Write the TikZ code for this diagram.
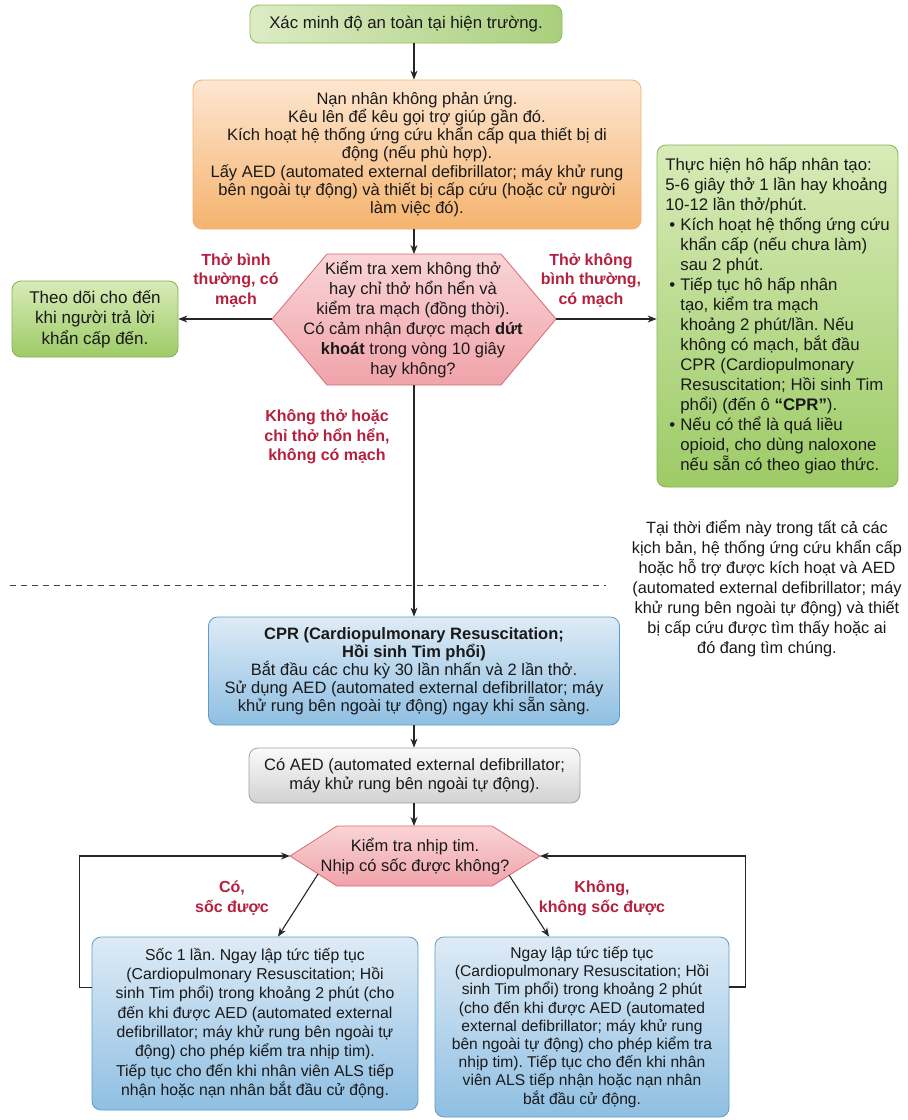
\documentclass[tikz,border=0pt]{standalone}
\usepackage{fontspec}
\setmainfont{Liberation Sans}
\usetikzlibrary{arrows.meta}
\frenchspacing
\definecolor{topL}{HTML}{DCEBC4}\definecolor{topR}{HTML}{A9CF7D}\definecolor{topB}{HTML}{8FBF5F}
\definecolor{orT}{HTML}{FDE6D0}\definecolor{orB}{HTML}{F5B36E}\definecolor{orD}{HTML}{EFB27A}
\definecolor{hxT}{HTML}{F9D4D6}\definecolor{hxB}{HTML}{F0A3AA}\definecolor{hxD}{HTML}{D66B78}
\definecolor{gnT}{HTML}{D8EBB8}\definecolor{gnB}{HTML}{9DCB66}\definecolor{gnD}{HTML}{82B452}
\definecolor{blT}{HTML}{DEEBF6}\definecolor{blB}{HTML}{8FBFE2}\definecolor{blD}{HTML}{5B9CC9}
\definecolor{gyT}{HTML}{FAFAFA}\definecolor{gyB}{HTML}{D2D2D2}\definecolor{gyD}{HTML}{A0A0A0}
\definecolor{labred}{HTML}{B5203F}
\newcommand\bul{\makebox[15pt][l]{\hspace{4pt}•}}
\newcommand\ind{\hspace*{15pt}}
\tikzset{
  box/.style={draw, rounded corners=9pt, align=center, inner sep=2pt, line width=0.8pt,
    font=\fontsize{16.5}{18.3}\selectfont, text=black!90},
  greenbox/.style={box, draw=gnD, top color=gnT, bottom color=gnB},
  bluebox/.style={box, draw=blD, top color=blT, bottom color=blB},
  hexshape/.style={draw=hxD, top color=hxT, bottom color=hxB, line width=0.8pt},
  hextext/.style={align=center, inner sep=0pt, font=\fontsize{16.5}{20}\selectfont, text=black!90},
  lab/.style={align=center, inner sep=0pt, text=labred, font=\bfseries\fontsize{16}{19.5}\selectfont},
  arr/.style={-{Stealth[length=9pt,width=7pt]}, line width=1.1pt, draw=black!85},
  dline/.style={dashed, dash pattern=on 6pt off 5pt, line width=0.9pt, draw=black!75}
}
\begin{document}
\begin{tikzpicture}[x=1pt,y=-1pt]
\useasboundingbox (0,0) rectangle (908,1120);
\coordinate (spine) at (414,0);

% top box
\node[box, draw=topB, left color=topL, right color=topR, minimum width=312pt, minimum height=38pt,
  font=\fontsize{16.8}{19}\selectfont] (top) at (406,24) {Xác minh độ an toàn tại hiện trường.};

% orange box
\node[box, draw=orD, top color=orT, bottom color=orB, minimum width=448pt, minimum height=149pt] (orange) at (417,154.5)
{Nạn nhân không phản ứng.\\
Kêu lên để kêu gọi trợ giúp gần đó.\\
Kích hoạt hệ thống ứng cứu khẩn cấp qua thiết bị di\\
động (nếu phù hợp).\\
Lấy AED (automated external defibrillator; máy khử rung\\
bên ngoài tự động) và thiết bị cấp cứu (hoặc cử người\\
làm việc đó).};

% hexagon 1
\draw[hexshape] (272,319) -- (327,254) -- (501,254) -- (556,319) -- (501,385) -- (327,385) -- cycle;
\coordinate (h1W) at (272,319);
\coordinate (h1E) at (556,319);
\coordinate (h1N) at (414,254);
\coordinate (h1S) at (414,385);
\node[hextext] (h1) at (413,320)
{Kiểm tra xem không thở\\
hay chỉ thở hổn hển và\\
kiểm tra mạch (đồng thời).\\
Có cảm nhận được mạch \textbf{dứt}\\
\textbf{khoát} trong vòng 10 giây\\
hay không?};

% left green box
\node[greenbox, minimum width=166pt, minimum height=76pt, font=\fontsize{17}{20.5}\selectfont] (left) at (95,319)
{Theo dõi cho đến\\khi người trả lời\\khẩn cấp đến.};

% right green box
\node[greenbox, minimum width=241pt, minimum height=342pt, align=left,
  font=\fontsize{16.8}{20}\selectfont] (rg) at (777.5,316)
{Thực hiện hô hấp nhân tạo:\\
5-6 giây thở 1 lần hay khoảng\\
10-12 lần thở/phút.\\
\bul Kích hoạt hệ thống ứng cứu\\
\ind khẩn cấp (nếu chưa làm)\\
\ind sau 2 phút.\\
\bul Tiếp tục hô hấp nhân\\
\ind tạo, kiểm tra mạch\\
\ind khoảng 2 phút/lần. Nếu\\
\ind không có mạch, bắt đầu\\
\ind CPR (Cardiopulmonary\\
\ind Resuscitation; Hồi sinh Tim\\
\ind phổi) (đến ô \textbf{“CPR”}).\\
\bul Nếu có thể là quá liều\\
\ind opioid, cho dùng naloxone\\
\ind nếu sẵn có theo giao thức.};

% labels top
\node[lab] (l1) at (236,280) {Thở bình\\thường, có\\mạch};
\node[lab] (l2) at (591,280) {Thở không\\bình thường,\\có mạch};
\node[lab] (l3) at (327,437) {Không thở hoặc\\chỉ thở hổn hển,\\không có mạch};

% dashed line and note
\draw[dline] (10,585) -- (606,585);
\node[align=center, inner sep=0pt, font=\fontsize{16.3}{20}\selectfont, text=black!90] (note) at (767,589)
{Tại thời điểm này trong tất cả các\\
kịch bản, hệ thống ứng cứu khẩn cấp\\
hoặc hỗ trợ được kích hoạt và AED\\
(automated external defibrillator; máy\\
khử rung bên ngoài tự động) và thiết\\
bị cấp cứu được tìm thấy hoặc ai\\
đó đang tìm chúng.};

% CPR box
\node[bluebox, minimum width=411pt, minimum height=108pt, font=\fontsize{16.5}{18}\selectfont] (cpr) at (414,671)
{\textbf{CPR (Cardiopulmonary Resuscitation;}\\
\textbf{Hồi sinh Tim phổi)}\\
Bắt đầu các chu kỳ 30 lần nhấn và 2 lần thở.\\
Sử dụng AED (automated external defibrillator; máy\\
khử rung bên ngoài tự động) ngay khi sẵn sàng.};

% gray box
\node[box, draw=gyD, top color=gyT, bottom color=gyB, minimum width=331pt, minimum height=55pt,
  font=\fontsize{16.5}{19}\selectfont] (gray) at (414.5,775.5)
{Có AED (automated external defibrillator;\\máy khử rung bên ngoài tự động).};

% hexagon 2
\draw[hexshape] (290,856) -- (337,826) -- (492,826) -- (540,856) -- (492,886) -- (337,886) -- cycle;
\coordinate (h2W) at (290,856);
\coordinate (h2E) at (540,856);
\coordinate (h2N) at (414,826);
\coordinate (h2BL) at (318,874);
\coordinate (h2BR) at (509,875);
\node[hextext] (h2) at (415,857) {Kiểm tra nhịp tim.\\Nhịp có sốc được không?};

% bottom boxes
\node[bluebox, minimum width=326pt, minimum height=173pt, font=\fontsize{15.8}{19.3}\selectfont] (bl) at (255,1023.5)
{Sốc 1 lần. Ngay lập tức tiếp tục\\
(Cardiopulmonary Resuscitation; Hồi\\
sinh Tim phổi) trong khoảng 2 phút (cho\\
đến khi được AED (automated external\\
defibrillator; máy khử rung bên ngoài tự\\
động) cho phép kiểm tra nhịp tim).\\
Tiếp tục cho đến khi nhân viên ALS tiếp\\
nhận hoặc nạn nhân bắt đầu cử động.};
\node[bluebox, minimum width=294pt, minimum height=180pt, font=\fontsize{15.6}{18.2}\selectfont] (br) at (582,1027)
{Ngay lập tức tiếp tục\\
(Cardiopulmonary Resuscitation; Hồi\\
sinh Tim phổi) trong khoảng 2 phút\\
(cho đến khi được AED (automated\\
external defibrillator; máy khử rung\\
bên ngoài tự động) cho phép kiểm tra\\
nhịp tim). Tiếp tục cho đến khi nhân\\
viên ALS tiếp nhận hoặc nạn nhân\\
bắt đầu cử động.};
\coordinate (blx) at (278,0);
\coordinate (brx) at (549,0);

\node[lab] (l4) at (232,898) {Có,\\sốc được};
\node[lab] (l5) at (602,898) {Không,\\không sốc được};

% connectors
\draw[arr] (top.south -| spine) -- (orange.north -| spine);
\draw[arr] (orange.south -| spine) -- (h1N);
\draw[arr] (h1W) -- (h1W -| left.east);
\draw[arr] (h1E) -- (h1E -| rg.west);
\draw[arr] (h1S) -- (cpr.north -| h1S);
\draw[arr] (cpr.south -| spine) -- (gray.north -| spine);
\draw[arr] (gray.south -| spine) -- (h2N);
\draw[arr] (h2BL) -- (bl.north -| blx);
\draw[arr] (h2BR) -- (br.north -| brx);
\draw[arr] ([yshift=36pt]bl.west) -- ++(-12,0) |- (h2W);
\draw[arr] ([yshift=40pt]br.east) -- ++(16,0) |- (h2E);
\end{tikzpicture}
\end{document}
